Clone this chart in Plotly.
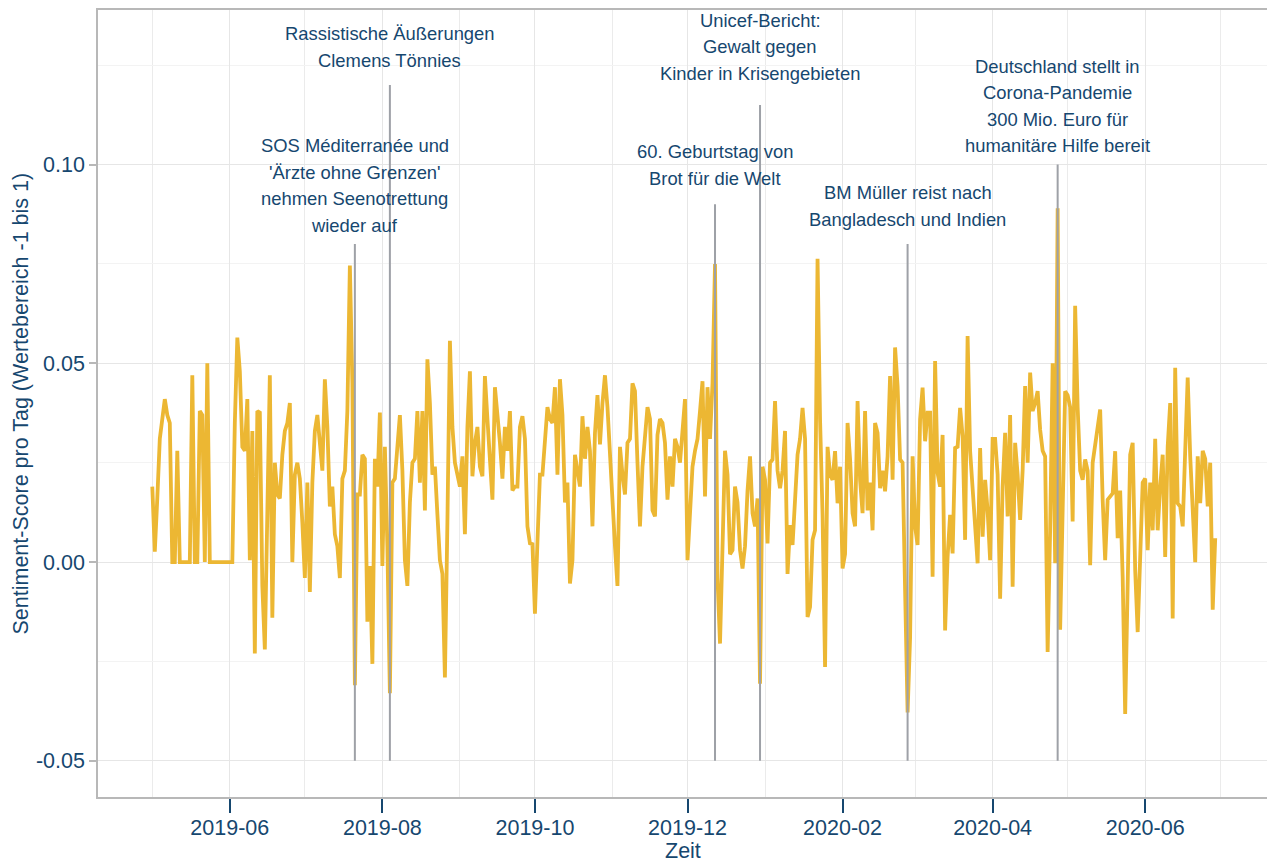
import pandas as pd
import plotly.graph_objects as go

# ---------------- data ----------------
start_date = "2019-05-01"
sentiment = [
    0.019, 0.0026, 0.016, 0.031, 0.036, 0.041, 0.037, 0.035, 0, 0,
    0.028, 0, 0, 0, 0, 0, 0.047, 0, 0, 0.038,
    0.037, 0, 0.050, 0, 0, 0, 0, 0, 0, 0,
    0, 0, 0, 0.035, 0.0565, 0.048, 0.029, 0.028, 0.041, 0.0005,
    0.033, -0.023, 0.038, 0.0376, -0.006, -0.022, 0.007, 0.047, -0.014, 0.025,
    0.017, 0.016, 0.027, 0.033, 0.035, 0.040, 0.0, 0.022, 0.025, 0.021,
    0.010, -0.004, 0.020, -0.0075, 0.020, 0.033, 0.037, 0.031, 0.023, 0.046,
    0.034, 0.014, 0.019, 0.007, 0.004, -0.004, 0.021, 0.023, 0.038, 0.0746,
    0.045, -0.031, 0.017, 0.017, 0.027, 0.026, -0.015, -0.001, -0.0256, 0.026,
    0.019, 0.0376, -0.001, 0.029, 0.004, -0.033, 0.020, 0.021, 0.030, 0.037,
    0.023, 0.0005, -0.006, 0.015, 0.025, 0.026, 0.038, 0.020, 0.038, 0.013,
    0.051, 0.040, 0.022, 0.024, 0.012, 0.0005, -0.003, -0.029, 0.010, 0.0557,
    0.034, 0.025, 0.022, 0.019, 0.0266, 0.007, 0.034, 0.048, 0.0216, 0.030,
    0.034, 0.024, 0.0216, 0.0468, 0.036, 0.025, 0.0157, 0.044, 0.038, 0.030,
    0.021, 0.034, 0.028, 0.038, 0.018, 0.019, 0.019, 0.034, 0.0367, 0.031,
    0.009, 0.0047, 0.0045, -0.013, 0.005, 0.022, 0.022, 0.030, 0.039, 0.036,
    0.035, 0.044, 0.022, 0.046, 0.037, 0.015, 0.020, -0.0054, 0.0005, 0.027,
    0.023, 0.019, 0.0367, 0.026, 0.034, 0.028, 0.009, 0.0325, 0.042, 0.0296,
    0.040, 0.047, 0.039, 0.027, 0.0115, 0.004, -0.006, 0.029, 0.022, 0.017,
    0.030, 0.031, 0.045, 0.043, 0.025, 0.009, 0.024, 0.033, 0.039, 0.036,
    0.013, 0.0115, 0.032, 0.036, 0.035, 0.030, 0.0157, 0.0266, 0.019, 0.031,
    0.029, 0.025, 0.033, 0.041, 0.0005, 0.0115, 0.024, 0.028, 0.031, 0.038,
    0.0455, 0.0165, 0.044, 0.031, 0.045, 0.075, -0.004, -0.0205, 0.005, 0.028,
    0.022, 0.002, 0.003, 0.019, 0.015, 0.003, -0.0016, 0.004, 0.018, 0.0266,
    0.0123, 0.009, 0.016, -0.0306, 0.024, 0.0207, 0.0047, 0.025, 0.0258, 0.0405,
    0.023, 0.0186, 0.023, 0.033, -0.003, 0.0093, 0.0043, 0.018, 0.027, 0.031,
    0.0388, 0.031, -0.0138, -0.0113, 0.0056, 0.008, 0.0763, 0.0359, 0.012, -0.0264,
    0.029, 0.022, 0.0207, 0.0279, 0.0148, 0.024, -0.0016, 0.002, 0.035, 0.026,
    0.0123, 0.009, 0.0405, 0.0207, 0.0123, 0.038, 0.013, 0.020, 0.008, 0.035,
    0.0325, 0.0186, 0.023, 0.0178, 0.0266, 0.0468, 0.0207, 0.054, 0.0443, 0.0258,
    0.025, -0.007, -0.0378, -0.019, 0.0266, 0.009, 0.0043, 0.0359, 0.0439, 0.0304,
    0.0376, 0.0376, -0.0037, 0.0506, 0.0224, 0.019, 0.032, -0.0172, 0.0013, 0.0119,
    0.0022, 0.0287, 0.029, 0.0388, 0.0317, 0.0056, 0.0569, 0.028, 0.0173, 0.0098,
    -0.0003, 0.0287, 0.0064, 0.0207, 0.013, 0.0005, 0.031, 0.031, 0.022, -0.0092,
    0.019, 0.0325, 0.0115, 0.037, -0.0062, 0.030, 0.022, 0.0106, 0.023, 0.0443,
    0.025, 0.0477, 0.038, 0.040, 0.043, 0.0333, 0.028, 0.0266, -0.0226, 0.008,
    0.050, -0.0003, 0.089, -0.017, 0.020, 0.043, 0.042, 0.039, 0.0102, 0.0645,
    0.039, 0.023, 0.0207, 0.0258, 0.023, -0.0008, 0.025, 0.029, 0.033, 0.0384,
    0.0157, 0.0005, 0.0157, 0.0165, 0.0173, 0.0279, 0.006, 0.018, -0.0037, -0.0382,
    -0.010, 0.027, 0.030, -0.002, -0.0176, 0.0056, 0.020, 0.021, 0.003, 0.020,
    0.008, 0.031, 0.008, 0.019, 0.027, 0.0013, 0.029, 0.040, -0.0142, 0.0489,
    0.0148, 0.014, 0.009, 0.028, 0.0464, 0.0266, 0.012, 0.0, 0.0266, 0.0148,
    0.028, 0.026, 0.014, 0.025, -0.012, 0.006,
]

y_tick_values = [-0.05, 0.0, 0.05, 0.10]
y_tick_labels = ["-0.05", "0.00", "0.05", "0.10"]

event_dates = ["2019-07-21", "2019-08-04", "2019-12-12", "2019-12-30", "2020-02-27", "2020-04-27"]
event_tops = [0.08, 0.12, 0.09, 0.115, 0.08, 0.10]
event_bottom = -0.05
event_labels = [
    ["SOS Méditerranée und", "'Ärzte ohne Grenzen'", "nehmen Seenotrettung", "wieder auf"],
    ["Rassistische Äußerungen", "Clemens Tönnies"],
    ["60. Geburtstag von", "Brot für die Welt"],
    ["Unicef-Bericht:", "Gewalt gegen", "Kinder in Krisengebieten"],
    ["BM Müller reist nach", "Bangladesch und Indien"],
    ["Deutschland stellt in", "Corona-Pandemie", "300 Mio. Euro für", "humanitäre Hilfe bereit"],
]

x_title = "Zeit"
y_title = "Sentiment-Score pro Tag (Wertebereich -1 bis 1)"

# ---------------- styles ----------------
LINE_COLOR = "#ECB733"
EVENT_COLOR = "#9EA1A7"
TEXT_COLOR = "#16476F"
AXIS_GRAY = "#B8B8B8"
FONT = "Liberation Sans, Arial, sans-serif"
AXIS_FONT_SIZE = 21.5
LABEL_FONT_SIZE = 18.4
label_gap_px = [19, 25, 26, 32, 25, 19]
label_line_px = 26.5

dates = pd.date_range(start=start_date, periods=len(sentiment), freq="D")

fig = go.Figure()
fig.add_trace(go.Scatter(
    x=dates, y=sentiment, mode="lines",
    line=dict(color=LINE_COLOR, width=3.8),
    hoverinfo="x+y", showlegend=False,
))

for d, top in zip(event_dates, event_tops):
    fig.add_trace(go.Scatter(
        x=[d, d], y=[event_bottom, top], mode="lines",
        line=dict(color=EVENT_COLOR, width=2),
        hoverinfo="skip", showlegend=False,
    ))

annotations = []
for d, top, lines, gap in zip(event_dates, event_tops, event_labels, label_gap_px):
    n = len(lines)
    for j, txt in enumerate(lines):
        annotations.append(dict(
            x=d, y=top, xref="x", yref="y", text=txt, showarrow=False,
            xanchor="center", yanchor="middle",
            yshift=gap + (n - 1 - j) * label_line_px,
            font=dict(family=FONT, size=LABEL_FONT_SIZE, color=TEXT_COLOR),
        ))

# axis titles as paper-positioned text
annotations.append(dict(
    x=0.5, y=-0.0686, xref="paper", yref="paper", text=x_title, showarrow=False,
    xanchor="center", yanchor="middle",
    font=dict(family=FONT, size=AXIS_FONT_SIZE, color=TEXT_COLOR),
))
annotations.append(dict(
    x=-0.0667, y=0.5, xref="paper", yref="paper", text=y_title, showarrow=False,
    xanchor="center", yanchor="middle", textangle=-90,
    font=dict(family=FONT, size=AXIS_FONT_SIZE, color=TEXT_COLOR),
))

fig.update_layout(
    width=1267, height=863,
    margin=dict(l=98, r=0, t=10, b=66, autoexpand=False),
    paper_bgcolor="white", plot_bgcolor="white",
    font=dict(family=FONT, size=AXIS_FONT_SIZE, color=TEXT_COLOR),
    annotations=annotations,
    showlegend=False,
)

fig.update_xaxes(
    type="date", automargin=False,
    range=["2019-04-09 07:00", "2020-07-19 17:00"],
    tick0="2019-06-01", dtick="M2", tickformat="%Y-%m",
    ticks="outside", ticklen=14, tickwidth=2, tickcolor=TEXT_COLOR,
    ticklabelstandoff=-4,
    tickfont=dict(family=FONT, size=AXIS_FONT_SIZE, color=TEXT_COLOR),
    showgrid=True, gridcolor="#E6E6E6", gridwidth=1,
    minor=dict(tick0="2019-05-01", dtick="M1", showgrid=True, gridcolor="#EBEBEB", gridwidth=1, ticks=""),
    showline=True, linecolor=AXIS_GRAY, linewidth=1.5, mirror=True,
    zeroline=False,
)

fig.update_yaxes(
    automargin=False,
    range=[-0.0591, 0.1389],
    tickmode="array", tickvals=y_tick_values, ticktext=y_tick_labels,
    ticks="outside", ticklen=7, tickwidth=1.5, tickcolor=AXIS_GRAY,
    tickfont=dict(family=FONT, size=AXIS_FONT_SIZE, color=TEXT_COLOR),
    showgrid=True, gridcolor="#E6E6E6", gridwidth=1,
    minor=dict(tickmode="linear", tick0=0, dtick=0.025, showgrid=True, gridcolor="#F3F3F3", gridwidth=1, ticks=""),
    showline=True, linecolor=AXIS_GRAY, linewidth=1.5, mirror=True,
    zeroline=False,
)

fig.write_html(
    "out.html",
    config={"displayModeBar": False},
    post_script="document.body.style.margin='0px';document.body.style.overflow='hidden';",
)
